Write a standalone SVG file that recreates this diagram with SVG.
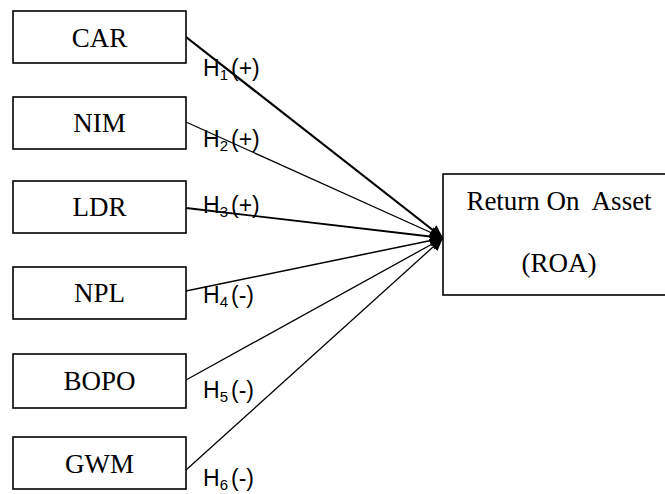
<svg xmlns="http://www.w3.org/2000/svg" width="665" height="494" viewBox="0 0 665 494">
<style>
.box{fill:#fff;stroke:#000;stroke-width:1.6}
.bt{font-family:"Liberation Serif","Times New Roman",serif;font-size:27px;fill:#000;text-anchor:middle}
.lbl{font-family:"Liberation Sans",Arial,sans-serif;font-size:23px;fill:#000}
.sub{font-size:15px}
.ln{stroke:#000;fill:none}
</style>
<defs>
<marker id="ah" markerUnits="userSpaceOnUse" markerWidth="14" markerHeight="12" refX="13" refY="6" orient="auto">
<path d="M0,0 L13,6 L0,12 Z" fill="#000"/>
</marker>
</defs>
<rect width="665" height="494" fill="#fff"/>
<g id="connectors">
<line class="ln" x1="186" y1="37" x2="443" y2="238" stroke-width="2.2" marker-end="url(#ah)"/>
<line class="ln" x1="186" y1="122" x2="443" y2="238" stroke-width="1.3" marker-end="url(#ah)"/>
<line class="ln" x1="186" y1="208" x2="443" y2="238" stroke-width="1.8" marker-end="url(#ah)"/>
<line class="ln" x1="186" y1="291" x2="443" y2="238" stroke-width="1.5" marker-end="url(#ah)"/>
<line class="ln" x1="186" y1="380" x2="443" y2="238" stroke-width="1.3" marker-end="url(#ah)"/>
<line class="ln" x1="186" y1="470" x2="443" y2="238" stroke-width="1.3" marker-end="url(#ah)"/>
</g>
<g id="labels">
<text class="lbl" x="203" y="76">H<tspan class="sub" dy="4">1</tspan><tspan dy="-4" dx="3">(+)</tspan></text>
<text class="lbl" x="203" y="147">H<tspan class="sub" dy="4">2</tspan><tspan dy="-4" dx="3">(+)</tspan></text>
<text class="lbl" x="203" y="213">H<tspan class="sub" dy="4">3</tspan><tspan dy="-4" dx="3">(+)</tspan></text>
<text class="lbl" x="203" y="303">H<tspan class="sub" dy="4">4</tspan><tspan dy="-4" dx="3">(-)</tspan></text>
<text class="lbl" x="203" y="398">H<tspan class="sub" dy="4">5</tspan><tspan dy="-4" dx="3">(-)</tspan></text>
<text class="lbl" x="203" y="486">H<tspan class="sub" dy="4">6</tspan><tspan dy="-4" dx="3">(-)</tspan></text>
</g>
<g id="car"><rect class="box" x="13" y="11" width="173" height="52"/><text class="bt" x="99.5" y="47">CAR</text></g>
<g id="nim"><rect class="box" x="13" y="97" width="173" height="52"/><text class="bt" x="99.5" y="132">NIM</text></g>
<g id="ldr"><rect class="box" x="13" y="181" width="173" height="52"/><text class="bt" x="99.5" y="216">LDR</text></g>
<g id="npl"><rect class="box" x="13" y="267" width="173" height="52"/><text class="bt" x="99.5" y="302">NPL</text></g>
<g id="bopo"><rect class="box" x="13" y="354" width="173" height="54"/><text class="bt" x="99.5" y="390">BOPO</text></g>
<g id="gwm"><rect class="box" x="13" y="437" width="173" height="52"/><text class="bt" x="99.5" y="473">GWM</text></g>
<g id="roa"><rect class="box" x="443" y="174" width="240" height="121"/><text class="bt" x="559" y="210" xml:space="preserve">Return On  Asset</text><text class="bt" x="559" y="272">(ROA)</text></g>
</svg>
